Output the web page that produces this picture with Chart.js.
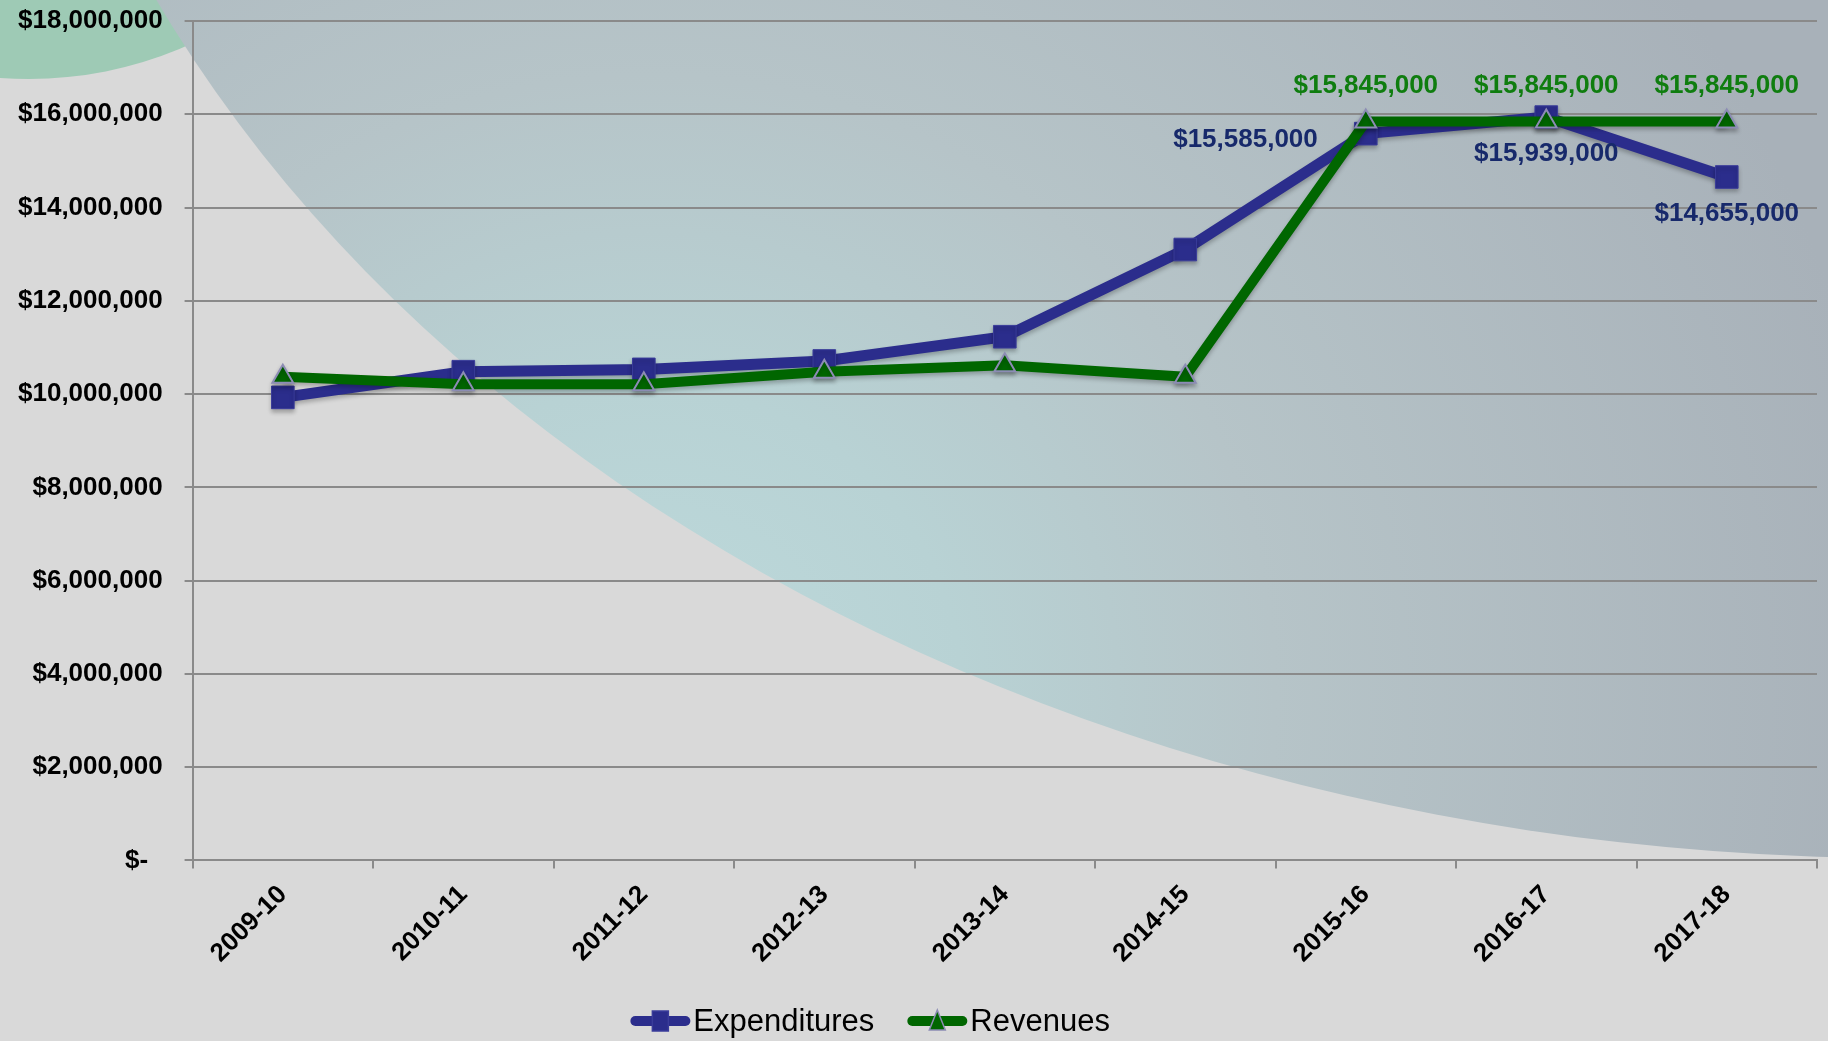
<!DOCTYPE html>
<html>
<head>
<meta charset="utf-8">
<script src="https://cdn.jsdelivr.net/npm/chart.js@4.4.0/dist/chart.umd.min.js"></script>
<style>
  html, body { margin: 0; padding: 0; background: #d9d9d9; }
  canvas { display: block; }
</style>
</head>
<body>
<canvas id="budget" width="1828" height="1041"></canvas>
<script>
const years = ["2009-10", "2010-11", "2011-12", "2012-13", "2013-14", "2014-15", "2015-16", "2016-17", "2017-18"];
const expenditures = [9930000, 10480000, 10530000, 10710000, 11230000, 13100000, 15585000, 15939000, 14655000];
const revenues = [10370000, 10210000, 10210000, 10480000, 10620000, 10370000, 15845000, 15845000, 15845000];
const seriesNames = ["Expenditures", "Revenues"];
const yMax = 18000000;
const yStep = 2000000;

// which points carry a value label, and where it sits
const labelSpots = [
  { 6: "left", 7: "below", 8: "below" },
  { 6: "above", 7: "above", 8: "above" },
];

const BLUE = "#2b2d8c";
const GREEN = "#006600";
const FONT = "'Liberation Sans', Arial, sans-serif";

const money = (v) => v === 0 ? "$-  " : "$" + v.toLocaleString("en-US");

// slide-style background: grey page, green arc top left, big tinted ellipse
const backdrop = {
  id: "backdrop",
  beforeDraw(chart) {
    const ctx = chart.ctx;
    ctx.save();
    ctx.fillStyle = "#d9d9d9";
    ctx.fillRect(0, 0, chart.width, chart.height);

    ctx.beginPath();
    ctx.arc(29, -314, 393, 0, Math.PI * 2);
    ctx.fillStyle = "#9ecab5";
    ctx.fill();

    const g = ctx.createRadialGradient(650, 700, 0, 650, 700, 1250);
    g.addColorStop(0, "#bddadc");
    g.addColorStop(0.25, "#b8d2d4");
    g.addColorStop(0.5, "#b6c4c8");
    g.addColorStop(1, "#a8b1b9");
    ctx.beginPath();
    ctx.ellipse(1900, -592, 1910, 1450, 0, 0, Math.PI * 2);
    ctx.fillStyle = g;
    ctx.fill();
    ctx.restore();
  },
  beforeDatasetsDraw(chart) {
    const ctx = chart.ctx;
    ctx.save();
    ctx.shadowColor = "rgba(0,0,0,0.25)";
    ctx.shadowBlur = 4;
    ctx.shadowOffsetY = 3;
  },
  afterDatasetsDraw(chart) {
    chart.ctx.restore();
  },
};

// value labels next to the last points
const valueLabels = {
  id: "valueLabels",
  afterDatasetsDraw(chart) {
    const ctx = chart.ctx;
    ctx.save();
    ctx.font = "bold 26px " + FONT;
    ctx.textBaseline = "middle";
    chart.data.datasets.forEach((ds, di) => {
      const meta = chart.getDatasetMeta(di);
      const spots = labelSpots[di];
      ctx.fillStyle = di === 0 ? "#17296b" : "#0f7d0f";
      Object.keys(spots).forEach((k) => {
        const pt = meta.data[k];
        const txt = money(ds.data[k]);
        if (spots[k] === "above") {
          ctx.textAlign = "center";
          ctx.fillText(txt, pt.x, pt.y - 36);
        } else if (spots[k] === "below") {
          ctx.textAlign = "center";
          ctx.fillText(txt, pt.x, pt.y + 37);
        } else {
          ctx.textAlign = "right";
          ctx.fillText(txt, pt.x - 48, pt.y + 6);
        }
      });
    });
    ctx.restore();
  },
};

// legend: thick line sample with the marker, then the name
const lineLegend = {
  id: "lineLegend",
  afterDraw(chart) {
    const ctx = chart.ctx;
    ctx.save();
    ctx.font = "31px " + FONT;
    ctx.textBaseline = "middle";
    const y = chart.height - 20;
    const sample = 60, gap = 3, between = 33;
    const widths = seriesNames.map((n) => sample + gap + ctx.measureText(n).width);
    const total = widths[0] + between + widths[1];
    let x = chart.width * 0.476 - total / 2;
    chart.data.datasets.forEach((ds, i) => {
      ctx.strokeStyle = ds.borderColor;
      ctx.lineWidth = 10;
      ctx.lineCap = "round";
      ctx.beginPath();
      ctx.moveTo(x + 5, y);
      ctx.lineTo(x + sample - 5, y);
      ctx.stroke();
      const cx = x + sample / 2;
      ctx.fillStyle = ds.pointBackgroundColor;
      ctx.strokeStyle = ds.pointBorderColor;
      ctx.lineWidth = 1.5;
      ctx.beginPath();
      if (ds.pointStyle === "rect") {
        ctx.rect(cx - 8, y - 10, 16, 20);
      } else {
        ctx.moveTo(cx, y - 11);
        ctx.lineTo(cx + 8, y + 9);
        ctx.lineTo(cx - 8, y + 9);
        ctx.closePath();
      }
      ctx.fill();
      ctx.stroke();
      ctx.fillStyle = "#000";
      ctx.textAlign = "left";
      ctx.fillText(seriesNames[i], x + sample + gap, y + 1);
      x += widths[i] + between;
    });
    ctx.restore();
  },
};

new Chart(document.getElementById("budget"), {
  type: "line",
  data: {
    labels: years,
    datasets: [
      {
        label: seriesNames[0],
        data: expenditures,
        borderColor: BLUE,
        backgroundColor: BLUE,
        borderWidth: 11,
        pointStyle: "rect",
        pointRadius: 16,
        pointBackgroundColor: BLUE,
        pointBorderColor: "#3a3c9a",
        pointBorderWidth: 1,
        order: 1,
      },
      {
        label: seriesNames[1],
        data: revenues,
        borderColor: GREEN,
        backgroundColor: GREEN,
        borderWidth: 10,
        pointStyle: "triangle",
        pointRadius: 12,
        pointBackgroundColor: GREEN,
        pointBorderColor: "#8c8cb4",
        pointBorderWidth: 2,
        order: 0,
      },
    ],
  },
  options: {
    responsive: false,
    animation: false,
    devicePixelRatio: 1,
    layout: { autoPadding: false, padding: { left: -4, right: 0, top: 0, bottom: 61 } },
    plugins: {
      legend: { display: false },
      tooltip: { enabled: false },
    },
    scales: {
      x: {
        offset: true,
        afterFit: (scale) => { scale.paddingRight = 11; },
        grid: {
          offset: true,
          drawOnChartArea: false,
          color: "#8a8a8a",
          lineWidth: 2,
          tickLength: 8,
        },
        border: { color: "#8a8a8a", width: 2 },
        ticks: {
          minRotation: 45,
          maxRotation: 45,
          padding: 11,
          color: "#000",
          font: { family: FONT, size: 26, weight: "bold" },
        },
      },
      y: {
        min: 0,
        max: yMax,
        afterFit: (scale) => { scale.paddingTop = 21; },
        grid: { color: "#8a8a8a", lineWidth: 2, tickLength: 8 },
        border: { color: "#8a8a8a", width: 2 },
        ticks: {
          stepSize: yStep,
          padding: 22,
          color: "#000",
          font: { family: FONT, size: 26, weight: "bold" },
          callback: (v) => money(v),
        },
      },
    },
  },
  plugins: [backdrop, valueLabels, lineLegend],
});
</script>
</body>
</html>
